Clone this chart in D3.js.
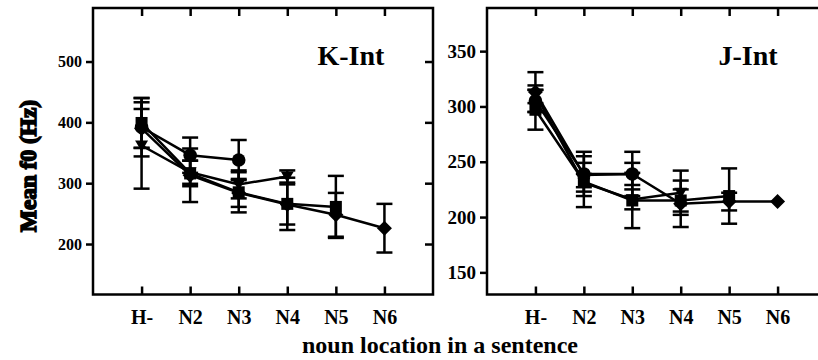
<!DOCTYPE html>
<html>
<head>
<meta charset="utf-8">
<script src="https://cdn.jsdelivr.net/npm/d3@7"></script>
<style>
  body { margin: 0; background: #fff; }
  svg { display: block; font-family: "Liberation Serif", "Times New Roman", serif; font-weight: bold; }
</style>
</head>
<body>
<div id="chart"></div>
<script>
// categories along the x axis (same for both panels)
var categories = ["H-", "N2", "N3", "N4", "N5", "N6"];

// K-Int panel: mean f0 (Hz) and half error bars, one array per marker type
var kCircle    = [392, 346, 338];
var kCircleErr = [48, 29, 33];
var kSquare    = [399, 316, 285, 266, 261];
var kSquareErr = [41, 21, 33, 43, 51];
var kTri       = [362, 318, 298, 311];
var kTriErr    = [71, 19, 23, 10];
var kDiamond    = [390, 313, 284, 265, 248, 226];
var kDiamondErr = [32, 44, 23, 33, 36, 40];
var kTicks = [200, 300, 400, 500];

// J-Int panel
var jCircle    = [305, 239, 239];
var jCircleErr = [10, 20, 10];
var jSquare    = [297, 232, 215, 215, 219];
var jSquareErr = [18, 23, 25, 10, 25];
var jTri       = [311, 231, 216, 222];
var jTriErr    = [8, 8, 9, 20];
var jDiamond    = [313, 238, 239, 212, 214, 214];
var jDiamondErr = [18, 11, 20, 21, 8, 0];
var jTicks = [150, 200, 250, 300, 350];

var width = 818, height = 360;

var svg = d3.select("#chart").append("svg")
    .attr("width", width)
    .attr("height", height);

// marker shapes
function shapePath(type) {
  if (type == "circle") return d3.symbol().type(d3.symbolCircle).size(145)();
  if (type == "square") return "M-6,-6H6V6H-6Z";
  if (type == "diamond") return "M0,-7.5L7.5,0L0,7.5L-7.5,0Z";
  return "M-6.5,-5L6.5,-5L0,6Z"; // triangle down
}

function drawPanel(opt) {
  var x = d3.scaleLinear().domain([0, 7]).range([opt.left, opt.right]);
  var y = d3.scaleLinear().domain(opt.yDomain).range([opt.bottom, opt.top]);
  var g = svg.append("g");

  // frame
  g.append("rect")
    .attr("x", opt.left).attr("y", opt.top)
    .attr("width", opt.right - opt.left).attr("height", opt.bottom - opt.top)
    .attr("fill", "none").attr("stroke", "#000").attr("stroke-width", 2.5);

  var idx = d3.range(1, 7);

  // left axis with labels
  var yl = g.append("g").attr("transform", "translate(" + opt.left + ",0)")
    .call(d3.axisLeft(y).tickValues(opt.ticks).tickSize(7).tickSizeOuter(0).tickPadding(4));
  yl.select(".domain").remove();
  yl.selectAll("line").attr("stroke-width", 2.5);
  yl.selectAll("text").attr("font-size", opt.tickFont).attr("fill", "#000")
    .attr("font-family", "Liberation Serif").attr("font-weight", "bold");

  // right axis, inward ticks
  var yr = g.append("g").attr("transform", "translate(" + opt.right + ",0)")
    .call(d3.axisLeft(y).tickValues(opt.ticks).tickSize(8).tickSizeOuter(0).tickFormat(""));
  yr.select(".domain").remove();
  yr.selectAll("line").attr("stroke-width", 2.5);

  // top ticks, inward
  var xt = g.append("g").attr("transform", "translate(0," + opt.top + ")")
    .call(d3.axisBottom(x).tickValues(idx).tickSize(8).tickSizeOuter(0).tickFormat(""));
  xt.select(".domain").remove();
  xt.selectAll("line").attr("stroke-width", 2.5);

  // bottom ticks, inward
  var xb = g.append("g").attr("transform", "translate(0," + opt.bottom + ")")
    .call(d3.axisTop(x).tickValues(idx).tickSize(8).tickSizeOuter(0).tickFormat(""));
  xb.select(".domain").remove();
  xb.selectAll("line").attr("stroke-width", 2.5);

  // bottom labels
  var xl = g.append("g").attr("transform", "translate(0," + opt.bottom + ")")
    .call(d3.axisBottom(x).tickValues(idx).tickSize(0).tickPadding(15)
      .tickFormat(function (d) { return categories[d - 1]; }));
  xl.select(".domain").remove();
  xl.selectAll("text").attr("font-size", 20).attr("fill", "#000")
    .attr("font-family", "Liberation Serif").attr("font-weight", "bold");

  // panel title
  g.append("text")
    .attr("x", x(6)).attr("y", 65)
    .attr("text-anchor", "end")
    .attr("font-size", 28)
    .text(opt.title);

  var line = d3.line()
    .x(function (d, i) { return x(i + 1); })
    .y(function (d) { return y(d); });

  opt.series.forEach(function (s) {
    g.append("path").datum(s.values)
      .attr("d", line)
      .attr("fill", "none").attr("stroke", "#000").attr("stroke-width", 2.5);
  });

  opt.series.forEach(function (s) {
    s.values.forEach(function (v, i) {
      var e = s.err[i];
      if (!e) return;
      var cx = x(i + 1);
      var eb = g.append("g").attr("stroke", "#000").attr("stroke-width", 2.5);
      eb.append("line").attr("x1", cx).attr("x2", cx).attr("y1", y(v - e)).attr("y2", y(v + e));
      eb.append("line").attr("x1", cx - 8).attr("x2", cx + 8).attr("y1", y(v + e)).attr("y2", y(v + e));
      eb.append("line").attr("x1", cx - 8).attr("x2", cx + 8).attr("y1", y(v - e)).attr("y2", y(v - e));
    });
  });

  opt.series.forEach(function (s) {
    g.selectAll(null).data(s.values).enter().append("path")
      .attr("d", shapePath(s.shape))
      .attr("transform", function (d, i) { return "translate(" + x(i + 1) + "," + y(d) + ")"; })
      .attr("fill", "#000");
  });
}

drawPanel({
  left: 93, right: 433, top: 8, bottom: 294.5,
  yDomain: [117, 588], ticks: kTicks, tickFont: 16, title: "K-Int",
  series: [
    { shape: "circle", values: kCircle, err: kCircleErr },
    { shape: "square", values: kSquare, err: kSquareErr },
    { shape: "tri", values: kTri, err: kTriErr },
    { shape: "diamond", values: kDiamond, err: kDiamondErr }
  ]
});

drawPanel({
  left: 487, right: 826, top: 8, bottom: 294.5,
  yDomain: [130, 389], ticks: jTicks, tickFont: 19, title: "J-Int",
  series: [
    { shape: "circle", values: jCircle, err: jCircleErr },
    { shape: "square", values: jSquare, err: jSquareErr },
    { shape: "tri", values: jTri, err: jTriErr },
    { shape: "diamond", values: jDiamond, err: jDiamondErr }
  ]
});

// shared axis titles
svg.append("text")
  .attr("x", 440).attr("y", 353)
  .attr("text-anchor", "middle")
  .attr("font-size", 24)
  .text("noun location in a sentence");

svg.append("text")
  .attr("transform", "translate(36,166) rotate(-90)")
  .attr("text-anchor", "middle")
  .attr("font-size", 24)
  .attr("stroke", "#000").attr("stroke-width", 1.6)
  .attr("textLength", 132).attr("lengthAdjust", "spacingAndGlyphs")
  .text("Mean f0 (Hz)");
</script>
</body>
</html>
